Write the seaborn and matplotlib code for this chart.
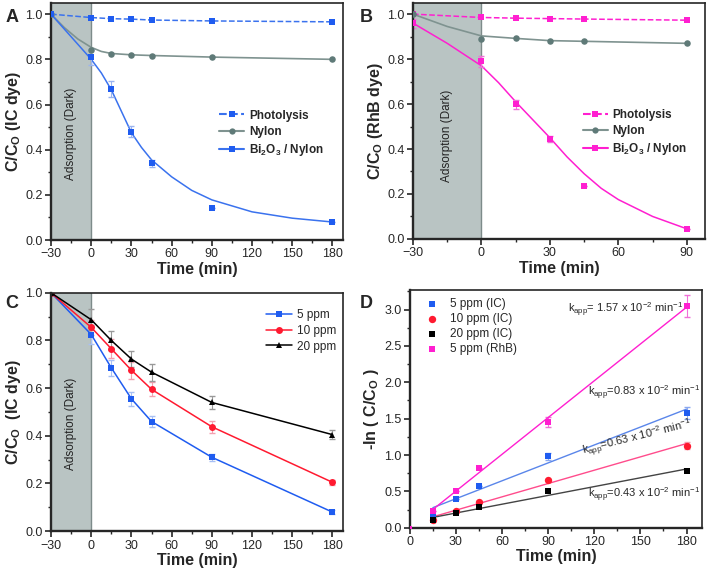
import numpy as np
import pandas as pd
import matplotlib
matplotlib.use('Agg')
import matplotlib.pyplot as plt
from matplotlib.lines import Line2D
from matplotlib.ticker import MultipleLocator
import seaborn as sns

# ---- data ----
# panel A (IC dye)
t_A = [-30, 0, 15, 30, 45, 90, 180]
A_photo = [1.0, 0.985, 0.98, 0.978, 0.974, 0.97, 0.966]
A_nylon = [1.0, 0.84, 0.825, 0.82, 0.817, 0.81, 0.80]
A_bi = [1.0, 0.81, 0.67, 0.48, 0.34, 0.14, 0.08]
A_bi_err = [0, 0.035, 0.035, 0.025, 0.015, 0, 0]
# fitted curves
fitA_t = [-30, -15, 0, 7.5, 15, 22.5, 30, 37.5, 45, 60, 75, 90, 120, 150, 180]
fitA_bi = [1.0, 0.90, 0.80, 0.74, 0.665, 0.57, 0.475, 0.41, 0.355, 0.28, 0.22, 0.178, 0.125, 0.097, 0.08]
fitA_nyl_t = [-30, -20, -10, 0, 7.5, 15, 30, 45, 90, 180]
fitA_nylon = [1.0, 0.94, 0.89, 0.853, 0.835, 0.826, 0.82, 0.817, 0.81, 0.80]

# panel B (RhB dye)
t_B = [-30, 0, 15, 30, 45, 90]
B_photo = [1.0, 0.985, 0.982, 0.98, 0.978, 0.973]
B_nylon = [1.0, 0.89, 0.893, 0.88, 0.879, 0.87]
B_bi = [0.96, 0.79, 0.60, 0.445, 0.235, 0.045]
B_bi_err = [0.02, 0.025, 0.02, 0.012, 0, 0]
fitB_t = [-30, -15, 0, 7.5, 15, 22.5, 30, 37.5, 45, 52.5, 60, 75, 90]
fitB_bi = [0.96, 0.87, 0.77, 0.695, 0.61, 0.53, 0.45, 0.365, 0.29, 0.225, 0.175, 0.10, 0.045]
fitB_nyl_t = [-30, -15, 0, 15, 30, 45, 90]
fitB_nylon = [1.0, 0.945, 0.903, 0.892, 0.882, 0.879, 0.87]

# panel C (IC dye, concentrations)
t_C = [-30, 0, 15, 30, 45, 90, 180]
C_5 = [1.0, 0.825, 0.685, 0.555, 0.46, 0.31, 0.08]
C_10 = [1.0, 0.855, 0.765, 0.675, 0.595, 0.438, 0.205]
C_20 = [1.0, 0.887, 0.80, 0.722, 0.667, 0.54, 0.405]
C_5_err = [0, 0.04, 0.035, 0.03, 0.022, 0.015, 0.01]
C_10_err = [0, 0.03, 0.04, 0.035, 0.03, 0.025, 0.01]
C_20_err = [0, 0.045, 0.04, 0.035, 0.035, 0.028, 0.02]

# panel D (kinetics)
t_D = [15, 30, 45, 90, 180]
D_5ic = [0.18, 0.40, 0.58, 0.98, 1.58]
D_10ic = [0.11, 0.23, 0.36, 0.66, 1.13]
D_20ic = [0.10, 0.20, 0.28, 0.50, 0.78]
D_rhb = [0.23, 0.51, 0.82, 1.45, 3.05]
D_5ic_err = [0, 0, 0, 0.05, 0.08]
D_10ic_err = [0, 0, 0, 0, 0.05]
D_rhb_err = [0, 0, 0, 0.07, 0.15]

blue = '#1f5cf0'
blue_l = '#3a72ee'
mag = '#ff1fd0'
grey = '#5f7a78'
grey_l = '#7f9390'
red = '#ff1a30'
shade = '#b9c4c3'

sns.set_style('ticks')
plt.rcParams['font.family'] = ['Liberation Sans', 'DejaVu Sans']
plt.rcParams['mathtext.fontset'] = 'custom'
plt.rcParams['mathtext.rm'] = 'Liberation Sans:bold'
plt.rcParams['mathtext.bf'] = 'Liberation Sans:bold'
plt.rcParams['mathtext.sf'] = 'Liberation Sans'
plt.rcParams['mathtext.it'] = 'Liberation Sans:bold'

fig = plt.figure(figsize=(7.09, 5.73), dpi=100)
axA = fig.add_axes([0.072, 0.581, 0.412, 0.414])
axB = fig.add_axes([0.5825, 0.583, 0.412, 0.412])
axC = fig.add_axes([0.072, 0.073, 0.412, 0.416])
axD = fig.add_axes([0.578, 0.079, 0.412, 0.415])


def style_axes(ax):
    for side in ['top', 'right']:
        ax.spines[side].set_linewidth(1.2)
    for side in ['left', 'bottom']:
        ax.spines[side].set_linewidth(1.7)
    ax.tick_params(which='major', direction='out', length=4, width=1.2, labelsize=9, pad=2)
    ax.tick_params(which='minor', direction='out', length=2.2, width=1.0)
    ax.set_xlabel('Time (min)', fontsize=11.5, fontweight='bold', labelpad=1)


def dark_region(ax, ytxt):
    ax.axvspan(-30, 0, color=shade, lw=0, zorder=0)
    ax.axvline(0, color='#7d8b8a', lw=1, zorder=1)
    ax.text(-15, ytxt, 'Adsorption (Dark)', rotation=90, ha='center', va='center', fontsize=8.5, color='#222')


leg_bold = {'weight': 'bold', 'size': 8.5}

# ---- A ----
dark_region(axA, 0.47)
sns.lineplot(x=t_A, y=A_photo, ax=axA, color=blue_l, linestyle='--', lw=1.1,
             marker='s', markersize=4.5, markeredgewidth=0, markerfacecolor=blue)
sns.lineplot(x=fitA_nyl_t, y=fitA_nylon, ax=axA, color=grey_l, lw=1.2)
sns.scatterplot(x=t_A, y=A_nylon, ax=axA, color=grey, marker='o', s=22, linewidth=0, zorder=3)
sns.lineplot(x=fitA_t, y=fitA_bi, ax=axA, color=blue_l, lw=1.1)
axA.errorbar(t_A, A_bi, yerr=A_bi_err, fmt='none', ecolor='#9ab4f0', elinewidth=0.8, capsize=2)
sns.scatterplot(x=t_A, y=A_bi, ax=axA, color=blue, marker='s', s=22, linewidth=0, zorder=3)
axA.set_xlim(-30, 188)
axA.set_ylim(0, 1.05)
axA.xaxis.set_major_locator(MultipleLocator(30))
axA.xaxis.set_minor_locator(MultipleLocator(15))
axA.yaxis.set_major_locator(MultipleLocator(0.2))
axA.yaxis.set_minor_locator(MultipleLocator(0.1))
axA.set_ylabel('C/C$_{\\mathregular{O}}$ (IC dye)', fontsize=11.5, fontweight='bold', labelpad=2)
style_axes(axA)
hA = [Line2D([], [], color=blue_l, ls='--', marker='s', ms=4.5, mfc=blue, mew=0),
      Line2D([], [], color=grey_l, marker='o', ms=4.5, mfc=grey, mew=0),
      Line2D([], [], color=blue_l, marker='s', ms=4.5, mfc=blue, mew=0)]
axA.legend(hA, ['Photolysis', 'Nylon', 'Bi$_2$O$_3$ / Nylon'], loc='upper left',
           bbox_to_anchor=(0.56, 0.57), frameon=False, prop=leg_bold,
           handlelength=2.1, handletextpad=0.4, labelspacing=0.35, borderaxespad=0)

# ---- B ----
dark_region(axB, 0.46)
sns.lineplot(x=t_B, y=B_photo, ax=axB, color=mag, linestyle='--', lw=1.1,
             marker='s', markersize=4.5, markeredgewidth=0, markerfacecolor=mag)
sns.lineplot(x=fitB_nyl_t, y=fitB_nylon, ax=axB, color=grey_l, lw=1.2)
sns.scatterplot(x=t_B, y=B_nylon, ax=axB, color=grey, marker='o', s=22, linewidth=0, zorder=3)
sns.lineplot(x=fitB_t, y=fitB_bi, ax=axB, color=mag, lw=1.1)
axB.errorbar(t_B, B_bi, yerr=B_bi_err, fmt='none', ecolor='#f070d8', elinewidth=0.8, capsize=2)
sns.scatterplot(x=t_B, y=B_bi, ax=axB, color=mag, marker='s', s=22, linewidth=0, zorder=3)
axB.set_xlim(-30, 98)
axB.set_ylim(0, 1.05)
axB.xaxis.set_major_locator(MultipleLocator(30))
axB.xaxis.set_minor_locator(MultipleLocator(15))
axB.yaxis.set_major_locator(MultipleLocator(0.2))
axB.yaxis.set_minor_locator(MultipleLocator(0.1))
axB.set_ylabel('C/C$_{\\mathregular{O}}$ (RhB dye)', fontsize=11.5, fontweight='bold', labelpad=2)
style_axes(axB)
hB = [Line2D([], [], color=mag, ls='--', marker='s', ms=4.5, mfc=mag, mew=0),
      Line2D([], [], color=grey_l, marker='o', ms=4.5, mfc=grey, mew=0),
      Line2D([], [], color=mag, marker='s', ms=4.5, mfc=mag, mew=0)]
axB.legend(hB, ['Photolysis', 'Nylon', 'Bi$_2$O$_3$ / Nylon'], loc='upper left',
           bbox_to_anchor=(0.565, 0.57), frameon=False, prop=leg_bold,
           handlelength=2.1, handletextpad=0.4, labelspacing=0.35, borderaxespad=0)

# ---- C ----
dark_region(axC, 0.45)
axC.errorbar(t_C, C_5, yerr=C_5_err, fmt='none', ecolor='#a8c0f4', elinewidth=0.8, capsize=2)
axC.errorbar(t_C, C_10, yerr=C_10_err, fmt='none', ecolor='#f4a0b0', elinewidth=0.8, capsize=2)
axC.errorbar(t_C, C_20, yerr=C_20_err, fmt='none', ecolor='#999999', elinewidth=0.8, capsize=2)
sns.lineplot(x=t_C, y=C_5, ax=axC, color=blue, lw=1.1, marker='s', markersize=4.5,
             markeredgewidth=0, label='5 ppm')
sns.lineplot(x=t_C, y=C_10, ax=axC, color=red, lw=1.1, marker='o', markersize=5,
             markeredgewidth=0, label='10 ppm')
sns.lineplot(x=t_C, y=C_20, ax=axC, color='black', lw=1.1, marker='^', markersize=5,
             markeredgewidth=0, label='20 ppm')
axC.set_xlim(-30, 188)
axC.set_ylim(0, 1.0)
axC.xaxis.set_major_locator(MultipleLocator(30))
axC.xaxis.set_minor_locator(MultipleLocator(15))
axC.yaxis.set_major_locator(MultipleLocator(0.2))
axC.yaxis.set_minor_locator(MultipleLocator(0.1))
axC.set_ylabel('C/C$_{\\mathregular{O}}$  (IC dye)', fontsize=11.5, fontweight='bold', labelpad=2)
style_axes(axC)
axC.legend(loc='upper left', bbox_to_anchor=(0.72, 0.95), frameon=False, fontsize=8.5,
           handlelength=2.2, handletextpad=0.4, labelspacing=0.3, borderaxespad=0)

# ---- D ----
axD.errorbar(t_D, D_5ic, yerr=D_5ic_err, fmt='none', ecolor='#8aa8f0', elinewidth=0.8, capsize=2)
axD.errorbar(t_D, D_10ic, yerr=D_10ic_err, fmt='none', ecolor='#f4a0b0', elinewidth=0.8, capsize=2)
axD.errorbar(t_D, D_rhb, yerr=D_rhb_err, fmt='none', ecolor='#f070d8', elinewidth=0.8, capsize=2)
sns.regplot(x=t_D, y=D_5ic, ax=axD, ci=None, scatter=False, color='#5a86ea', line_kws={'lw': 1})
sns.regplot(x=t_D, y=D_10ic, ax=axD, ci=None, scatter=False, color='#ff4c8c', line_kws={'lw': 1})
sns.regplot(x=t_D, y=D_20ic, ax=axD, ci=None, scatter=False, color='#444444', line_kws={'lw': 1})
sns.regplot(x=t_D, y=D_rhb, ax=axD, ci=None, scatter=False, color=mag, line_kws={'lw': 1})
sns.scatterplot(x=t_D, y=D_5ic, ax=axD, color=blue, marker='s', s=24, linewidth=0, zorder=3, label='5 ppm (IC)')
sns.scatterplot(x=t_D, y=D_10ic, ax=axD, color=red, marker='o', s=28, linewidth=0, zorder=3, label='10 ppm (IC)')
sns.scatterplot(x=t_D, y=D_20ic, ax=axD, color='black', marker='s', s=24, linewidth=0, zorder=3, label='20 ppm (IC)')
sns.scatterplot(x=t_D, y=D_rhb, ax=axD, color=mag, marker='s', s=24, linewidth=0, zorder=3, label='5 ppm (RhB)')
sns.scatterplot(x=[0], y=[0], ax=axD, color=mag, marker='s', s=10, linewidth=0, zorder=3)
axD.set_xlim(0, 190)
axD.set_ylim(0, 3.27)
axD.xaxis.set_major_locator(MultipleLocator(30))
axD.xaxis.set_minor_locator(MultipleLocator(15))
axD.yaxis.set_major_locator(MultipleLocator(0.5))
axD.yaxis.set_minor_locator(MultipleLocator(0.25))
axD.set_ylabel('-ln ( C/C$_{\\mathregular{O}}$ )', fontsize=11.5, fontweight='bold', labelpad=2)
style_axes(axD)
axD.legend(loc='upper left', bbox_to_anchor=(0.02, 0.985), frameon=False, fontsize=8.5,
           handletextpad=0.5, labelspacing=0.25, borderaxespad=0, scatterpoints=1)

kfmt = 'k$_{\\mathsf{app}}$%s x 10$^{\\mathsf{-2}}$ min$^{\\mathsf{-1}}$'
axD.text(103, 3.0, kfmt % '= 1.57', fontsize=8, va='center')
axD.text(116, 1.85, kfmt % '=0.83', fontsize=8, va='center')
axD.text(114, 0.92, kfmt % '=0.63', fontsize=8, va='bottom', rotation=14, rotation_mode='anchor')
axD.text(116, 0.45, kfmt % '=0.43', fontsize=8, va='center')

# panel letters
for lbl, x, y in [('A', 0.008, 0.962), ('B', 0.508, 0.962), ('C', 0.008, 0.462), ('D', 0.508, 0.462)]:
    fig.text(x, y, lbl, fontsize=13, fontweight='bold')

fig.savefig('out.png', dpi=100)
